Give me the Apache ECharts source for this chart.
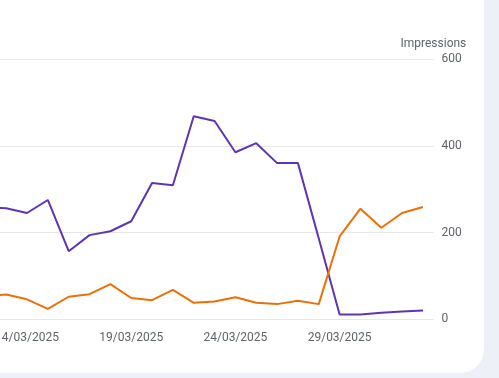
<!DOCTYPE html>
<html>
<head>
<meta charset="utf-8">
<script src="https://cdn.jsdelivr.net/npm/echarts@6/dist/echarts.min.js"></script>
<style>
  html, body { margin: 0; padding: 0; width: 499px; height: 378px; overflow: hidden; background: #eef0f8; position: relative; }
  #card { position: absolute; left: -100px; top: -100px; width: 583.5px; height: 472.5px; background: #ffffff; border-radius: 24px; }
  #chart { position: absolute; left: -50px; top: 0; width: 549px; height: 378px; }
</style>
</head>
<body>
<div id="card"></div>
<div id="chart"></div>
<script>
const dates = ['12/03/2025','13/03/2025','14/03/2025','15/03/2025','16/03/2025','17/03/2025','18/03/2025','19/03/2025','20/03/2025','21/03/2025','22/03/2025','23/03/2025','24/03/2025','25/03/2025','26/03/2025','27/03/2025','28/03/2025','29/03/2025','30/03/2025','31/03/2025','01/04/2025','02/04/2025'];
const purpleValues = [258, 256, 245, 275, 157, 194, 203, 226, 314, 309, 468, 457, 385, 406, 360, 360, 186, 11, 11, 15, 18, 20];
const orangeValues = [53, 57, 46, 24, 52, 58, 81, 49, 44, 68, 38, 41, 51, 38, 35, 43, 35, 191, 255, 211, 245, 259];
const yTicks = { min: 0, max: 600, interval: 200 };
const axisName = 'Impressions';

const chart = echarts.init(document.getElementById('chart'), null, { renderer: 'canvas' });
chart.setOption({
  backgroundColor: 'transparent',
  animation: false,
  textStyle: { fontFamily: 'Roboto' },
  grid: { left: 24.9, right: 65.6, top: 59, bottom: 58.7, containLabel: false },
  xAxis: {
    type: 'category',
    data: dates,
    boundaryGap: true,
    axisLine: { show: false },
    axisTick: { show: false },
    axisLabel: {
      interval: function (idx) { return (idx - 2) % 5 === 0; },
      color: '#5f6368',
      fontSize: 12,
      fontFamily: 'Roboto',
      margin: 13
    },
    splitLine: { show: false }
  },
  yAxis: {
    type: 'value',
    position: 'right',
    min: yTicks.min,
    max: yTicks.max,
    interval: yTicks.interval,
    name: axisName,
    nameGap: 9,
    nameTextStyle: { color: '#5f6368', fontSize: 12, fontFamily: 'Roboto' },
    axisLine: { show: false },
    axisTick: { show: false },
    axisLabel: { color: '#5f6368', fontSize: 12, fontFamily: 'Roboto', margin: 8 },
    splitLine: { lineStyle: { color: '#e6e6e6', width: 1 } }
  },
  series: [
    {
      name: 'Impressions A',
      type: 'line',
      data: purpleValues,
      symbol: 'none',
      lineStyle: { color: '#5e35b1', width: 2 },
      itemStyle: { color: '#5e35b1' }
    },
    {
      name: 'Impressions B',
      type: 'line',
      data: orangeValues,
      symbol: 'none',
      lineStyle: { color: '#e8710a', width: 2 },
      itemStyle: { color: '#e8710a' }
    }
  ]
});
</script>
</body>
</html>
